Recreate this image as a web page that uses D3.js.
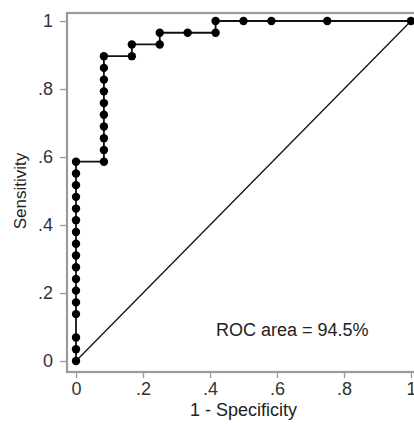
<!DOCTYPE html>
<html><head><meta charset="utf-8">
<script src="https://cdn.jsdelivr.net/npm/d3@7"></script>
<style>body{margin:0;background:#fff;}svg{display:block;font-family:"Liberation Sans",Arial,sans-serif;}</style>
</head><body><svg id="c" width="414" height="424"></svg>
<script>
// 1 - specificity and sensitivity of each ROC point
const fpr = [0,0,0,0,0,0,0,0,0,0,0,0,0,0,0,0,0,
  0.0833,0.0833,0.0833,0.0833,0.0833,0.0833,0.0833,0.0833,0.0833,0.0833,
  0.1667,0.1667,0.25,0.25,0.3333,0.4167,0.4167,0.5,0.5833,0.75,1];
const sensitivity = [0,0.0345,0.069,0.1379,0.1724,0.2069,0.2414,0.2759,0.3103,0.3448,0.3793,0.4138,0.4483,0.4828,0.5172,0.5517,0.5862,
  0.5862,0.6207,0.6552,0.6897,0.7241,0.7586,0.7931,0.8276,0.8621,0.8966,
  0.8966,0.931,0.931,0.9655,0.9655,0.9655,1,1,1,1,1];
const xTicks = [0,0.2,0.4,0.6,0.8,1];
const yTicks = [0,0.2,0.4,0.6,0.8,1];
const tickLabel = d => d===0?"0":d===1?"1":"."+Math.round(d*10);
const rocText = "ROC area = 94.5%";
const xTitle = "1 - Specificity", yTitle = "Sensitivity";

const svg = d3.select("#c");
const x = d3.scaleLinear().domain([0,1]).range([76,411]);
const y = d3.scaleLinear().domain([0,1]).range([361,21]);
const frame = {l:67, t:13, r:421, b:372};
const grey = "#9a9a9a";

svg.append("rect").attr("x",frame.l).attr("y",frame.t)
  .attr("width",frame.r-frame.l).attr("height",frame.b-frame.t)
  .attr("fill","none").attr("stroke",grey).attr("stroke-width",2.2);

const yAx = svg.append("g").attr("transform",`translate(${frame.l},0)`)
  .call(d3.axisLeft(y).tickValues(yTicks).tickFormat(tickLabel).tickSize(7).tickPadding(7));
const xAx = svg.append("g").attr("transform",`translate(0,${frame.b})`)
  .call(d3.axisBottom(x).tickValues(xTicks).tickFormat(tickLabel).tickSize(6).tickPadding(4));
[yAx,xAx].forEach(g=>{
  g.select(".domain").remove();
  g.selectAll(".tick line").attr("stroke",grey).attr("stroke-width",1.3);
  g.selectAll(".tick text").attr("fill","#333").style("font-size","18px").style("font-family","'Liberation Sans',Arial,sans-serif");
});

// diagonal reference
svg.append("line").attr("x1",x(0)).attr("y1",y(0)).attr("x2",x(1)).attr("y2",y(1))
  .attr("stroke","#111").attr("stroke-width",1.3);

const pts = fpr.map((f,i)=>[f,sensitivity[i]]);
svg.append("path").datum(pts)
  .attr("d",d3.line().x(d=>x(d[0])).y(d=>y(d[1])))
  .attr("fill","none").attr("stroke","#111").attr("stroke-width",1.8);
svg.append("g").selectAll("circle").data(pts).join("circle")
  .attr("cx",d=>x(d[0])).attr("cy",d=>y(d[1])).attr("r",4.2).attr("fill","#000");

svg.append("text").attr("x",216).attr("y",336).attr("fill","#222")
  .style("font-size","18px").text(rocText);
svg.append("text").attr("x",(x(0)+x(1))/2).attr("y",416).attr("text-anchor","middle")
  .attr("fill","#222").style("font-size","18px").text(xTitle);
svg.append("text").attr("transform",`translate(26,${(y(0)+y(1))/2}) rotate(-90)`)
  .attr("text-anchor","middle").attr("fill","#222").style("font-size","17px").text(yTitle);
</script></body></html>
